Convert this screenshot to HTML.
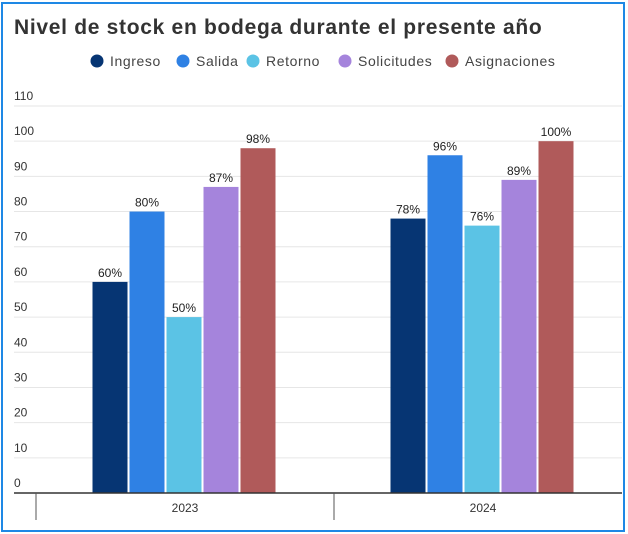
<!DOCTYPE html>
<html><head><meta charset="utf-8"><style>
body{margin:0;width:628px;height:534px;background:#fff;font-family:"Liberation Sans",sans-serif;overflow:hidden}
#frame{position:absolute;left:1px;top:2px;width:620px;height:526px;border:2px solid #1e88e5;}
</style></head><body>
<div id="frame"></div>
<svg id="chart" width="628" height="534" style="position:absolute;left:0;top:0">
<text x="14" y="34" font-size="21" font-weight="bold" fill="#333" letter-spacing="0.7">Nivel de stock en bodega durante el presente año</text>
<g id="legend"></g>
<g id="grid"></g>
<g id="bars"></g>
<g id="xaxis"></g>
</svg>
<script>
const categories=["2023","2024"];
const seriesNames=["Ingreso","Salida","Retorno","Solicitudes","Asignaciones"];
const ingreso=[60,78];
const salida=[80,96];
const retorno=[50,76];
const solicitudes=[87,89];
const asignaciones=[98,100];
const yTicks=[0,10,20,30,40,50,60,70,80,90,100,110];
const colors=["#063573","#2f81e4","#5bc3e5","#a584dc","#b05a5a"];
const series=[ingreso,salida,retorno,solicitudes,asignaciones];
const NS="http://www.w3.org/2000/svg";
const y0=493,yTop=106,yMax=110;
const y=v=>y0-(v/yMax)*(y0-yTop);
const groupLeft=36,groupW=298;
const xc=i=>groupLeft+groupW*i+groupW/2;
const bw=35,gap=2;
function mk(t,a,p){const e=document.createElementNS(NS,t);for(const k in a)e.setAttribute(k,a[k]);p.appendChild(e);return e;}
const grid=document.getElementById('grid');
yTicks.forEach(t=>{
  if(t>0){const l=mk('line',{x1:14,x2:622,y1:y(t),y2:y(t),stroke:'#e6e6e6','stroke-width':1},grid);
  
  }
  const tx=mk('text',{x:14,y:y(t)-6,'font-size':12,fill:'#333'},grid);tx.textContent=t;
  
  
});
const bars=document.getElementById('bars');
categories.forEach((c,ci)=>{
  const total=series.length*bw+(series.length-1)*gap;
  const start=xc(ci)-total/2-1;
  series.forEach((s,si)=>{
    const x=start+si*(bw+gap);
    const r=mk('rect',{x:x,y:y(s[ci]),width:bw,height:y0-y(s[ci]),fill:colors[si]},bars);
    
    
    const t=mk('text',{x:x+bw/2,y:y(s[ci])-5,'font-size':12,fill:'#222','text-anchor':'middle'},bars);
    t.textContent=s[ci]+'%';
    
    
  });
});
const xa=document.getElementById('xaxis');
const bl=mk('line',{x1:14,x2:622,y1:y0,y2:y0,stroke:'#333','stroke-width':1.5},xa);


[0,1].forEach(i=>{const l=mk('line',{x1:groupLeft+groupW*i,x2:groupLeft+groupW*i,y1:y0,y2:520,stroke:'#555'},xa);

});
categories.forEach((c,i)=>{const t=mk('text',{x:xc(i),y:512,'font-size':12,fill:'#333','text-anchor':'middle'},xa);t.textContent=c;

});
const lg=document.getElementById('legend');
const lx=[97,183,253,345,452];
seriesNames.forEach((n,i)=>{
  const g=mk('g',{},lg);
  
  
  mk('circle',{cx:lx[i],cy:61,r:6.5,fill:colors[i]},g);
  const t=mk('text',{x:lx[i]+13,y:66,'font-size':14,fill:'#444','letter-spacing':0.6},g);t.textContent=n;
});
</script>
</body></html>
